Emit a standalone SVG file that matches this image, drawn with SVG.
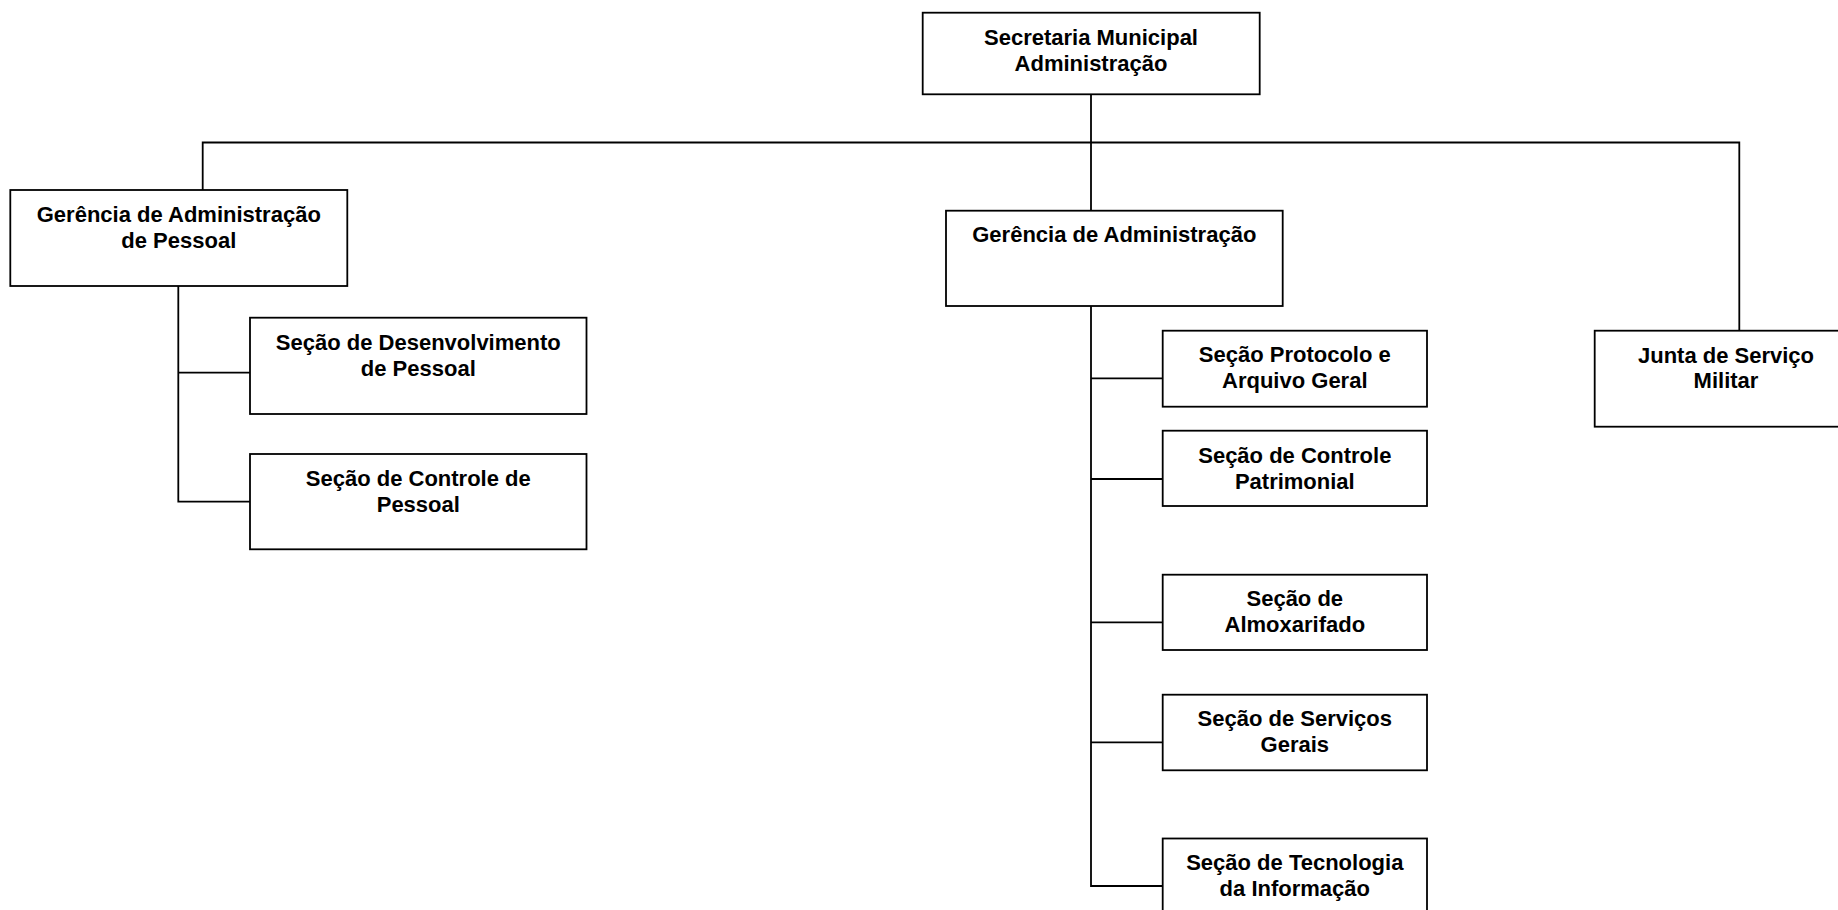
<svg xmlns="http://www.w3.org/2000/svg" width="1838" height="910" viewBox="0 0 1838 910">
<style>
  .box { fill: #ffffff; stroke: #000000; stroke-width: 1.8; }
  .lbl { font-family: "Liberation Sans", Arial, sans-serif; font-weight: bold; font-size: 22px; fill: #000000; text-anchor: middle; }
  .conn { fill: none; stroke: #000000; stroke-width: 1.8; }
</style>
<rect x="0" y="0" width="1838" height="910" fill="#ffffff"/>
<g id="connectors">
  <path class="conn" d="M1091,94.3 V210.7"/>
  <path class="conn" d="M202.7,190 V142.5 H1739.3 V330.7"/>
  <path class="conn" d="M178.3,286 V501.7 H250"/>
  <path class="conn" d="M178.3,372.7 H250"/>
  <path class="conn" d="M1091,306 V886 H1162.7"/>
  <path class="conn" d="M1091,378.3 H1162.7"/>
  <path class="conn" d="M1091,479 H1162.7"/>
  <path class="conn" d="M1091,622.3 H1162.7"/>
  <path class="conn" d="M1091,742.3 H1162.7"/>
</g>
<g id="n-secretaria">
  <rect class="box" x="922.7" y="12.7" width="337" height="81.6"/>
  <text class="lbl" x="1091" y="45">Secretaria Municipal</text>
  <text class="lbl" x="1091" y="70.5">Administração</text>
</g>
<g id="n-ger-pessoal">
  <rect class="box" x="10.3" y="190" width="337" height="96"/>
  <text class="lbl" x="178.8" y="222">Gerência de Administração</text>
  <text class="lbl" x="178.8" y="248">de Pessoal</text>
</g>
<g id="n-desenv">
  <rect class="box" x="250" y="317.7" width="336.5" height="96.3"/>
  <text class="lbl" x="418.3" y="349.5">Seção de Desenvolvimento</text>
  <text class="lbl" x="418.3" y="375.5">de Pessoal</text>
</g>
<g id="n-controle-pessoal">
  <rect class="box" x="250" y="454" width="336.5" height="95.3"/>
  <text class="lbl" x="418.3" y="485.5">Seção de Controle de</text>
  <text class="lbl" x="418.3" y="511.5">Pessoal</text>
</g>
<g id="n-ger-admin">
  <rect class="box" x="946" y="210.7" width="336.7" height="95.3"/>
  <text class="lbl" x="1114.3" y="242">Gerência de Administração</text>
</g>
<g id="n-protocolo">
  <rect class="box" x="1162.7" y="330.7" width="264.3" height="76"/>
  <text class="lbl" x="1294.8" y="362">Seção Protocolo e</text>
  <text class="lbl" x="1294.8" y="388">Arquivo Geral</text>
</g>
<g id="n-patrimonial">
  <rect class="box" x="1162.7" y="430.7" width="264.3" height="75.3"/>
  <text class="lbl" x="1294.8" y="463">Seção de Controle</text>
  <text class="lbl" x="1294.8" y="489">Patrimonial</text>
</g>
<g id="n-almox">
  <rect class="box" x="1162.7" y="574.7" width="264.3" height="75.3"/>
  <text class="lbl" x="1294.8" y="606">Seção de</text>
  <text class="lbl" x="1294.8" y="632">Almoxarifado</text>
</g>
<g id="n-servicos">
  <rect class="box" x="1162.7" y="694.7" width="264.3" height="75.6"/>
  <text class="lbl" x="1294.8" y="726">Seção de Serviços</text>
  <text class="lbl" x="1294.8" y="752">Gerais</text>
</g>
<g id="n-tecnologia">
  <rect class="box" x="1162.7" y="838.5" width="264.3" height="76"/>
  <text class="lbl" x="1294.8" y="870">Seção de Tecnologia</text>
  <text class="lbl" x="1294.8" y="896">da Informação</text>
</g>
<g id="n-junta">
  <rect class="box" x="1594.7" y="330.7" width="262.6" height="96"/>
  <text class="lbl" x="1726" y="362.5">Junta de Serviço</text>
  <text class="lbl" x="1726" y="388">Militar</text>
</g>
</svg>
